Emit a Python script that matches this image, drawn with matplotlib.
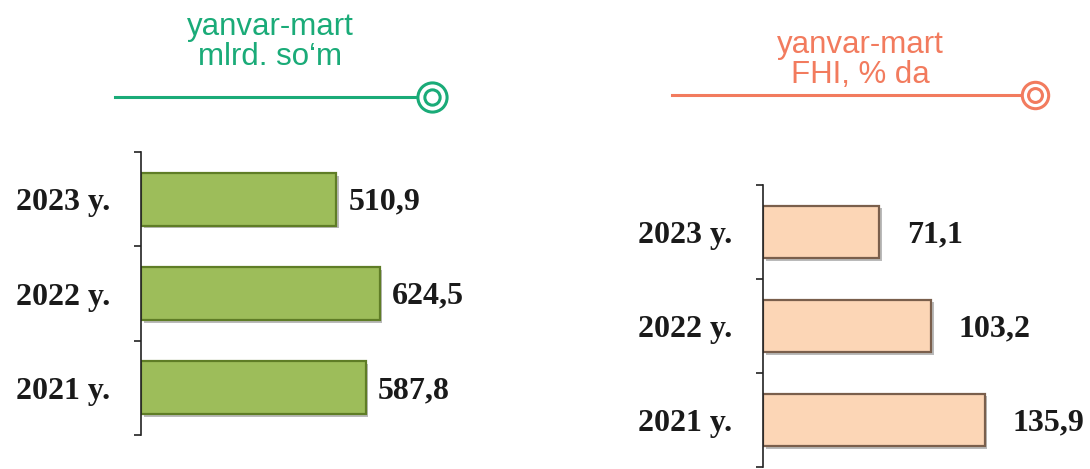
import numpy as np
import matplotlib
matplotlib.use("Agg")
import matplotlib.pyplot as plt
import matplotlib.patheffects as pe
from matplotlib.lines import Line2D

years = ["2021 y.", "2022 y.", "2023 y."]
volume = [587.8, 624.5, 510.9]      # mlrd. so'm
share_gdp = [135.9, 103.2, 71.1]    # FHI, % da

W, H = 1090, 469
fig = plt.figure(figsize=(W / 100, H / 100), dpi=100)

GREEN = "#1aab78"
CORAL = "#f27b5e"


def fmt(v):
    return f"{v:.1f}".replace(".", ",")


def bar_panel(rect, values, xmax, face, edge, offset):
    ax = fig.add_axes(rect)
    y = np.arange(len(values))
    bars = ax.barh(y, values, height=0.56, color=face, edgecolor=edge, linewidth=1.6)
    for b in bars:
        b.set_path_effects([pe.SimplePatchShadow(offset=(2, -2), shadow_rgbFace="#777777", alpha=0.5),
                            pe.Normal()])
    ax.set_xlim(0, xmax)
    ax.set_ylim(-0.5, len(values) - 0.5)
    for s in ["top", "right", "bottom"]:
        ax.spines[s].set_visible(False)
    ax.spines["left"].set_color("#222222")
    ax.spines["left"].set_linewidth(1.2)
    ax.set_xticks([])
    ax.set_yticks(np.arange(-0.5, len(values), 1.0))
    ax.set_yticklabels([])
    ax.tick_params(axis="y", which="major", length=5, width=1.2, color="#222222", direction="out")
    ax.set_yticks(y, minor=True)
    ax.set_yticklabels(years, minor=True, fontfamily="Liberation Serif",
                       fontweight="bold", fontsize=23, color="#1a1a1a")
    ax.tick_params(axis="y", which="minor", length=0, pad=22)
    for yi, v in zip(y, values):
        ax.annotate(fmt(v), (v, yi), xytext=(offset, -2), textcoords="offset points",
                    va="center", ha="left", fontfamily="Liberation Serif",
                    fontweight="bold", fontsize=23, color="#1a1a1a")
    ax.patch.set_alpha(0)
    return ax


# left panel: axis at x=141, spans y 152..435, 0.382 px per unit
bar_panel([141 / W, 1 - 435 / H, 300 / W, 283 / H], volume, 300 / 0.382,
          "#9dbd5a", "#5f7d26", 9)
# right panel: axis at x=763, spans y 185..467, 1.63 px per unit
bar_panel([763 / W, 1 - 467 / H, 320 / W, 282 / H], share_gdp, 320 / 1.63,
          "#fcd6b6", "#7a5f4c", 20)

# headers
fig.text(270 / W, 1 - 42 / H, "yanvar-mart\nmlrd. so‘m", ha="center", va="center",
         color=GREEN, fontsize=22.5, fontfamily="Liberation Sans", linespacing=0.98)
fig.text(860 / W, 1 - 60 / H, "yanvar-mart\nFHI, % da", ha="center", va="center",
         color=CORAL, fontsize=22.5, fontfamily="Liberation Sans", linespacing=0.98)


def header_line(x0, x1, yy, color, outer, inner):
    fig.add_artist(Line2D([x0 / W, x1 / W], [1 - yy / H, 1 - yy / H], color=color, lw=2.2,
                          transform=fig.transFigure))
    cx = (x1 + outer * 0.7) / W
    fig.add_artist(Line2D([cx], [1 - yy / H], marker="o", markersize=outer, markerfacecolor="white",
                          markeredgecolor=color, markeredgewidth=2.2, transform=fig.transFigure))
    fig.add_artist(Line2D([cx], [1 - yy / H], marker="o", markersize=inner, markerfacecolor="white",
                          markeredgecolor=color, markeredgewidth=2.2, transform=fig.transFigure))


header_line(115, 417, 97, GREEN, 21, 11)
header_line(672, 1022, 95, CORAL, 19, 10)

plt.savefig("out.png", dpi=100)
